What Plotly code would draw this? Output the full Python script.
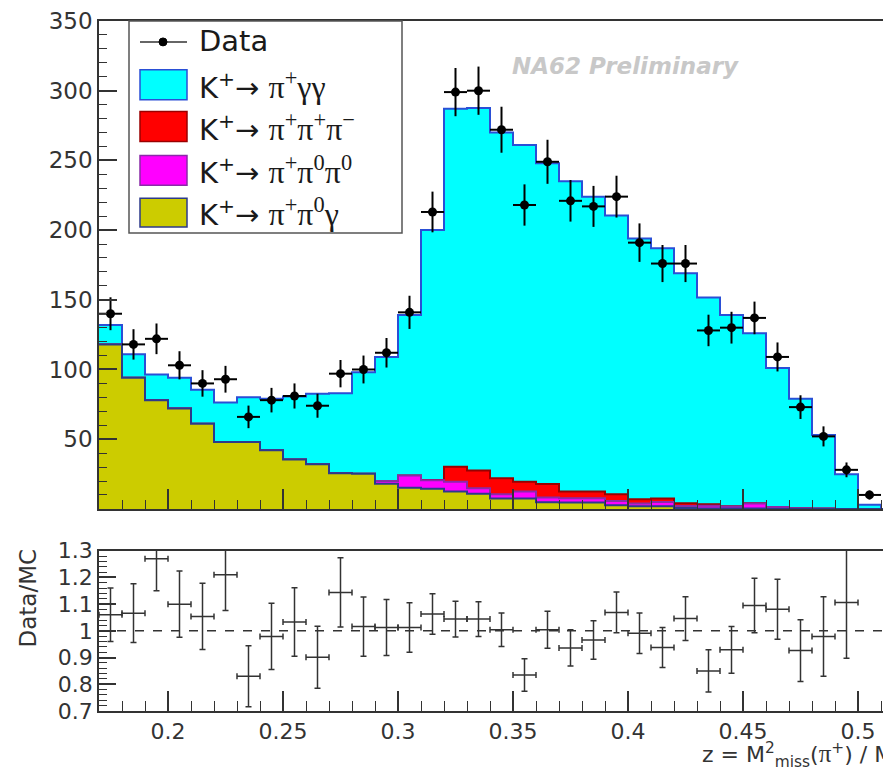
import numpy as np
import plotly.graph_objects as go

# ---------------- data ----------------
bin_centers = [0.175, 0.185, 0.195, 0.205, 0.215, 0.225, 0.235, 0.245, 0.255, 0.265,
               0.275, 0.285, 0.295, 0.305, 0.315, 0.325, 0.335, 0.345, 0.355, 0.365,
               0.375, 0.385, 0.395, 0.405, 0.415, 0.425, 0.435, 0.445, 0.455, 0.465,
               0.475, 0.485, 0.495, 0.505, 0.515]
bin_width = 0.01

# MC components (stacked)
mc_pi0gamma = [118, 94, 78, 72, 61, 48, 48, 42, 35.5, 32,
               25.5, 25.2, 18.1, 15.2, 14.5, 12.4, 10.9, 7.4, 7.4, 4.8,
               4.5, 4.5, 2.6, 1.9, 1.9, 0.7, 0.3, 0.2, 0.2, 0,
               0, 0, 0, 0, 0]
mc_pi0pi0 = [0, 0, 0, 0, 0, 0, 0, 0, 0, 0,
             0, 0, 1.9, 8.8, 6.0, 7.1, 3.9, 3.1, 5.0, 3.3,
             3.1, 3.1, 3.1, 1.9, 3.1, 1.4, 2.0, 1.5, 3.6, 1.4,
             0.5, 0.3, 0, 0, 0]
mc_pipipi = [0, 0, 0, 0, 0, 0, 0, 0, 0, 0,
             0, 0, 0, 0, 0.3, 10.7, 12.8, 11.4, 7.1, 9.7,
             4.8, 4.8, 4.8, 3.1, 2.4, 1.9, 1.0, 0.2, 0.2, 0,
             0, 0, 0, 0, 0]
mc_gammagamma = [14, 17, 18.4, 22, 24.5, 28.4, 32, 37, 45.2, 50.6,
                 57.5, 72.8, 89, 115, 179.2, 256.8, 260, 248.1, 241.5, 230.2,
                 222.6, 211.6, 200, 187.1, 179.6, 165, 148.4, 137.1, 122, 99.6,
                 78.5, 52.7, 24.8, 3, 0]

data_x = [0.175, 0.185, 0.195, 0.205, 0.215, 0.225, 0.235, 0.245, 0.255, 0.265,
          0.275, 0.285, 0.295, 0.305, 0.315, 0.325, 0.335, 0.345, 0.355, 0.365,
          0.375, 0.385, 0.395, 0.405, 0.415, 0.425, 0.435, 0.445, 0.455, 0.465,
          0.475, 0.485, 0.495, 0.505]
data_y = [140, 118, 122, 103, 90, 93, 66, 78, 81, 74,
          97, 100, 112, 141, 213, 299, 300, 272, 218, 249,
          221, 217, 224, 191, 176, 176, 128, 130, 137, 109,
          73, 52, 28, 10]
data_err = [11.8, 10.9, 11.0, 10.1, 9.5, 9.6, 8.1, 8.8, 9.0, 8.6,
            9.8, 10.0, 10.6, 11.9, 14.6, 17.3, 17.3, 16.5, 14.8, 15.8,
            14.9, 14.7, 15.0, 13.8, 13.3, 13.3, 11.3, 11.4, 11.7, 10.4,
            8.5, 7.2, 5.3, 3.2]

ratio_x = [0.175, 0.185, 0.195, 0.205, 0.215, 0.225, 0.235, 0.245, 0.255, 0.265,
           0.275, 0.285, 0.295, 0.305, 0.315, 0.325, 0.335, 0.345, 0.355, 0.365,
           0.375, 0.385, 0.395, 0.405, 0.415, 0.425, 0.435, 0.445, 0.455, 0.465,
           0.475, 0.485, 0.495]
ratio_y = [1.06, 1.066, 1.27, 1.10, 1.054, 1.21, 0.83, 0.979, 1.033, 0.901,
           1.144, 1.016, 1.0125, 1.0125, 1.063, 1.044, 1.044, 1.004, 0.835, 1.004,
           0.936, 0.966, 1.069, 0.991, 0.9375, 1.046, 0.85, 0.929, 1.095, 1.081,
           0.926, 0.979, 1.106]
ratio_err = [0.10, 0.11, 0.12, 0.124, 0.124, 0.134, 0.114, 0.124, 0.128, 0.116,
             0.13, 0.111, 0.105, 0.093, 0.076, 0.067, 0.065, 0.063, 0.061, 0.069,
             0.068, 0.072, 0.076, 0.076, 0.075, 0.082, 0.079, 0.0875, 0.102, 0.112,
             0.116, 0.149, 0.209]

top_ticks = [50, 100, 150, 200, 250, 300, 350]
ratio_ticks = [0.7, 0.8, 0.9, 1.0, 1.1, 1.2, 1.3]
ratio_ticktext = ["0.7", "0.8", "0.9", "1", "1.1", "1.2", "1.3"]

# ---------------- figure geometry ----------------
# The page body keeps the browser's default 8px margin, so the figure is
# drawn 8px right/down; all screen positions below are compensated for it.
OFF = 8
W, H = 891, 775
L, R, T, B = 99 - OFF, 0, 18 - OFF, H - (711 - OFF)
PW, PH = W - L - R, H - T - B


def px(sx):
    return (sx - OFF - L) / PW


def py(sy):
    return (H - B - (sy - OFF)) / PH


centers = np.array(bin_centers)
edges = np.append(centers - bin_width / 2, centers[-1] + bin_width / 2)

c_y = np.array(mc_pi0gamma)
c_m = c_y + np.array(mc_pi0pi0)
c_r = c_m + np.array(mc_pipipi)
c_c = c_r + np.array(mc_gammagamma)

fig = go.Figure()

levels = [
    (c_c, "#00ffff", "#2a4fd6"),
    (c_r, "#ff0000", "#9a0000"),
    (c_m, "#ff00ff", "#8a2aa8"),
    (c_y, "#cccc00", "#2c3a8a"),
]
for vals, fillc, linec in levels:
    fig.add_trace(go.Scatter(
        x=edges, y=np.append(vals, vals[-1]), mode="lines",
        line=dict(shape="hv", color=linec, width=2),
        fill="tozeroy", fillcolor=fillc, showlegend=False,
        xaxis="x", yaxis="y", hoverinfo="skip"))

fig.add_trace(go.Scatter(
    x=data_x, y=data_y, mode="markers",
    marker=dict(color="black", size=9),
    error_x=dict(type="constant", value=bin_width / 2, width=0, thickness=2, color="black"),
    error_y=dict(type="data", array=data_err, width=0, thickness=2, color="black"),
    showlegend=False, xaxis="x", yaxis="y"))

fig.add_trace(go.Scatter(
    x=ratio_x, y=ratio_y, mode="markers",
    marker=dict(color="#333", size=1),
    error_x=dict(type="constant", value=bin_width / 2, width=3, thickness=1.5, color="#333"),
    error_y=dict(type="data", array=ratio_err, width=3, thickness=1.5, color="#333"),
    showlegend=False, xaxis="x2", yaxis="y2"))

axis_common = dict(showline=True, linecolor="#333", linewidth=1.5, mirror=True,
                   showgrid=False, zeroline=False, ticks="inside", tickcolor="#333",
                   ticklabeloverflow="allow")
xr = [0.17, 0.17 + PW / 2300.0]

fig.update_layout(
    width=W, height=H,
    margin=dict(l=L, r=R, t=T, b=B),
    paper_bgcolor="white", plot_bgcolor="white",
    font=dict(family="DejaVu Sans", color="#222"),
    xaxis=dict(domain=[0, 1], anchor="y", range=xr, tick0=0, dtick=0.05, ticklen=20,
               tickwidth=1.5, showticklabels=False,
               minor=dict(ticks="inside", dtick=0.01, ticklen=9, tickcolor="#333", tickwidth=1.2),
               **axis_common),
    yaxis=dict(domain=[py(508), 1], anchor="x", range=[0, 350], tickvals=top_ticks,
               ticklen=18, tickwidth=1.5, tickfont=dict(size=23, color="#333"),
               minor=dict(ticks="inside", dtick=10, ticklen=8, tickcolor="#333", tickwidth=1.2),
               **{**axis_common, "mirror": False}),
    xaxis2=dict(domain=[0, 1], anchor="y2", range=xr, tick0=0, dtick=0.05, ticklen=20,
                tickwidth=1.5, tickfont=dict(size=22, color="#333"),
                minor=dict(ticks="inside", dtick=0.01, ticklen=10, tickcolor="#333", tickwidth=1.2),
                **axis_common),
    yaxis2=dict(domain=[0, py(550)], anchor="x2", range=[0.7, 1.3], tickvals=ratio_ticks,
                ticktext=ratio_ticktext, ticklen=17, tickwidth=1.5,
                tickfont=dict(size=22, color="#333"),
                minor=dict(ticks="inside", dtick=0.02, ticklen=8, tickcolor="#333", tickwidth=1.2),
                **{**axis_common, "mirror": False}),
)

# dashed unity line in ratio panel
fig.add_shape(type="line", xref="x2 domain", x0=0, x1=1, yref="y2", y0=1, y1=1,
              line=dict(color="#333", width=1.5, dash="dash"))

# ---------------- legend (drawn like ROOT TLegend) ----------------
fig.add_shape(type="rect", xref="paper", yref="paper", x0=px(129), x1=px(402),
              y0=py(231), y1=py(18), line=dict(color="#555", width=1.5),
              fillcolor="white", layer="above")
fig.add_shape(type="line", xref="paper", yref="paper", x0=px(140), x1=px(187),
              y0=py(39), y1=py(39), line=dict(color="#666", width=2), layer="above")
fig.add_shape(type="circle", xref="paper", yref="paper", x0=px(159), x1=px(167),
              y0=py(43), y1=py(35), line=dict(color="black", width=1),
              fillcolor="black", layer="above")

boxes = [(67, 97, "#00ffff", "#2a4fd6"), (109, 139, "#ff0000", "#9a0000"),
         (153, 183, "#ff00ff", "#8a2aa8"), (196, 225, "#cccc00", "#2c3a8a")]
for y0, y1, fc, lc in boxes:
    fig.add_shape(type="rect", xref="paper", yref="paper", x0=px(140), x1=px(187),
                  y0=py(y1), y1=py(y0), line=dict(color=lc, width=1.5),
                  fillcolor=fc, layer="above")

SER = "font-family:Liberation Serif;font-size:32px"
legend_texts = [
    (38, "Data"),
    (82, f"K<sup>+</sup>→ <span style='{SER}'>π<sup>+</sup>γγ</span>"),
    (124, f"K<sup>+</sup>→ <span style='{SER}'>π<sup>+</sup>π<sup>+</sup>π<sup>−</sup></span>"),
    (168, f"K<sup>+</sup>→ <span style='{SER}'>π<sup>+</sup>π<sup>0</sup>π<sup>0</sup></span>"),
    (210, f"K<sup>+</sup>→ <span style='{SER}'>π<sup>+</sup>π<sup>0</sup>γ</span>"),
]
for yc, txt in legend_texts:
    fig.add_annotation(xref="paper", yref="paper", x=px(197), y=py(yc), text=txt,
                       showarrow=False, xanchor="left", yanchor="middle",
                       font=dict(size=29, color="#1a1a1a", family="DejaVu Sans"))

# watermark
fig.add_annotation(xref="paper", yref="paper", x=px(625), y=py(63),
                   text="<b><i>NA62 Preliminary</i></b>", showarrow=False,
                   xanchor="center", yanchor="middle",
                   font=dict(size=23, color="#c8c8c8", family="DejaVu Sans"))

# y title of ratio panel
fig.add_annotation(xref="paper", yref="paper", x=px(28), y=py(598), text="Data/MC",
                   textangle=-90, showarrow=False, xanchor="center", yanchor="middle",
                   font=dict(size=23, color="#333"))

# x axis title (cut at the right edge as in the reference)
fig.add_annotation(xref="paper", yref="paper", x=px(700), y=py(755),
                   text="z = M<sup>2</sup><sub>miss</sub>(<span style='font-family:Liberation Serif;font-size:25px'>π</span><sup>+</sup>) / M",
                   showarrow=False, xanchor="left", yanchor="middle",
                   font=dict(size=22, color="#333"))

fig.write_html("out.html")
